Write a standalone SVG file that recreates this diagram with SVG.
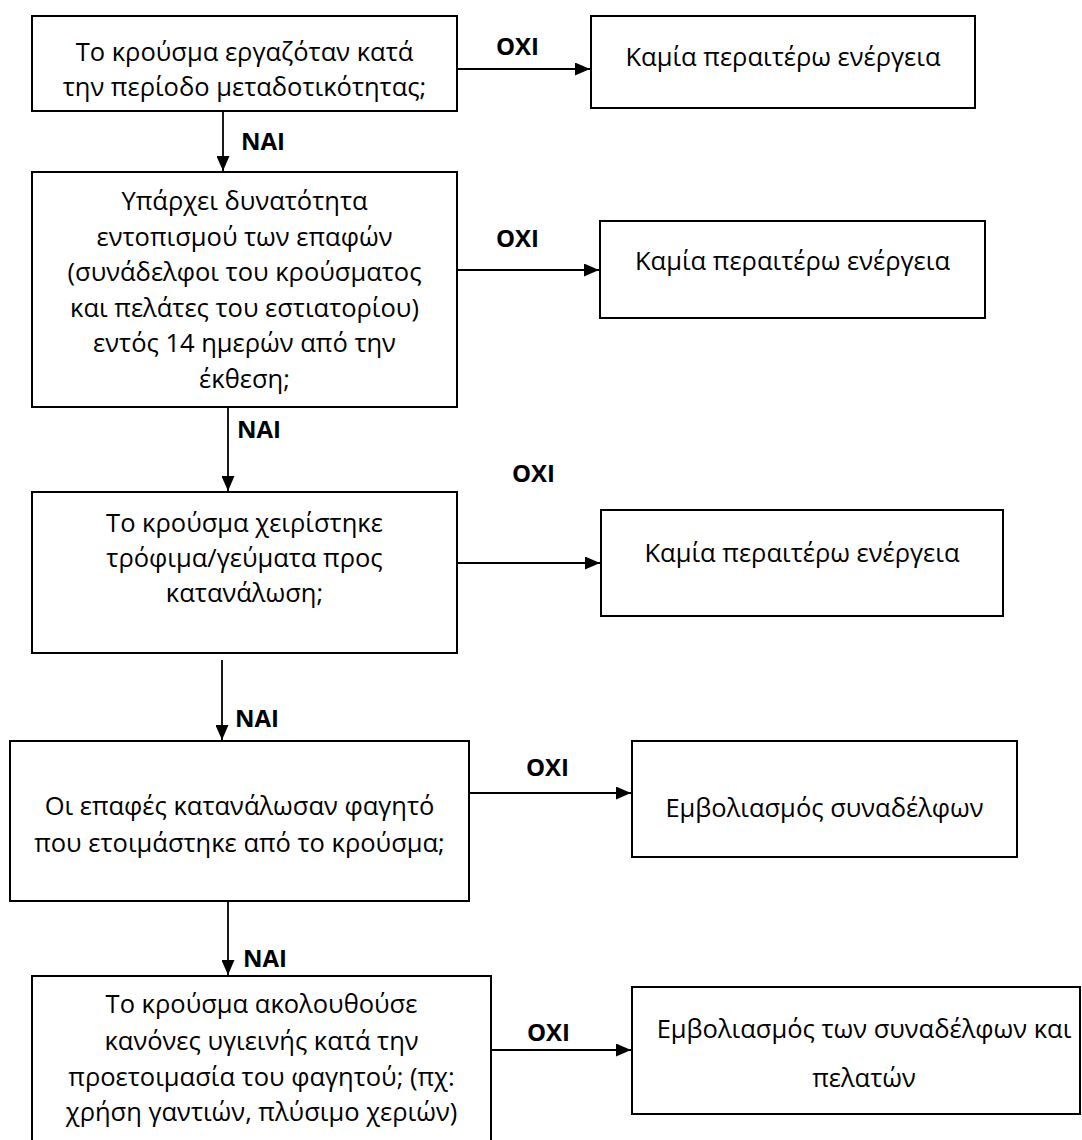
<svg xmlns="http://www.w3.org/2000/svg" width="1082" height="1140" viewBox="0 0 1082 1140">
<style>
.box{fill:#fff;stroke:#000;stroke-width:2}
.t{font-family:"Open Sans","Noto Sans","DejaVu Sans",sans-serif;font-size:25.5px;fill:#000;text-anchor:middle}
.lbl{font-family:"Open Sans","Liberation Sans",sans-serif;font-size:24px;font-weight:bold;fill:#000}
.c{stroke:#000;stroke-width:1.8;fill:none;marker-end:url(#ah)}
</style>
<defs>
<marker id="ah" viewBox="0 0 10 10" refX="10" refY="5" markerWidth="15" markerHeight="13" markerUnits="userSpaceOnUse" orient="auto" preserveAspectRatio="none">
<path d="M0,0 L10,5 L0,10 z" fill="#000"/>
</marker>
</defs>
<rect width="1082" height="1140" fill="#fff"/>
<g id="connectors">
<line class="c" x1="223" y1="111" x2="223" y2="171"/>
<line class="c" x1="228" y1="407" x2="228" y2="491"/>
<line class="c" x1="222" y1="660" x2="222" y2="740"/>
<line class="c" x1="228" y1="901" x2="228" y2="975"/>
<line class="c" x1="457" y1="69" x2="590" y2="69"/>
<line class="c" x1="457" y1="270" x2="599" y2="270"/>
<line class="c" x1="457" y1="563" x2="600" y2="563"/>
<line class="c" x1="469" y1="793" x2="631" y2="793"/>
<line class="c" x1="491" y1="1050" x2="631" y2="1050"/>
<text class="lbl" x="241" y="150">NAI</text>
<text class="lbl" x="237" y="438">NAI</text>
<text class="lbl" x="235" y="727">NAI</text>
<text class="lbl" x="243" y="967">NAI</text>
<text class="lbl" x="496" y="55">OXI</text>
<text class="lbl" x="496" y="247">OXI</text>
<text class="lbl" x="512" y="482">OXI</text>
<text class="lbl" x="526" y="776">OXI</text>
<text class="lbl" x="527" y="1041">OXI</text>
</g>
<g id="q1">
<rect class="box" x="32" y="16" width="425" height="95"/>
<text class="t" x="244.5" y="61">Το κρούσμα εργαζόταν κατά</text>
<text class="t" x="244.5" y="96">την περίοδο μεταδοτικότητας;</text>
</g>
<g id="n1">
<rect class="box" x="591" y="16" width="384" height="92"/>
<text class="t" x="783" y="66">Καμία περαιτέρω ενέργεια</text>
</g>
<g id="q2">
<rect class="box" x="32" y="172" width="425" height="235"/>
<text class="t" x="244.5" y="210">Υπάρχει δυνατότητα</text>
<text class="t" x="244.5" y="245.5">εντοπισμού των επαφών</text>
<text class="t" x="244.5" y="281">(συνάδελφοι του κρούσματος</text>
<text class="t" x="244.5" y="316.5">και πελάτες του εστιατορίου)</text>
<text class="t" x="244.5" y="352">εντός 14 ημερών από την</text>
<text class="t" x="244.5" y="387.5">έκθεση;</text>
</g>
<g id="n2">
<rect class="box" x="600" y="221" width="385" height="97"/>
<text class="t" x="792.5" y="270">Καμία περαιτέρω ενέργεια</text>
</g>
<g id="q3">
<rect class="box" x="32" y="492" width="425" height="161"/>
<text class="t" x="244.5" y="532">Το κρούσμα χειρίστηκε</text>
<text class="t" x="244.5" y="567">τρόφιμα/γεύματα προς</text>
<text class="t" x="244.5" y="602">κατανάλωση;</text>
</g>
<g id="n3">
<rect class="box" x="601" y="510" width="402" height="106"/>
<text class="t" x="802" y="562">Καμία περαιτέρω ενέργεια</text>
</g>
<g id="q4">
<rect class="box" x="10" y="741" width="459" height="160"/>
<text class="t" x="239.5" y="815">Οι επαφές κατανάλωσαν φαγητό</text>
<text class="t" x="239.5" y="852">που ετοιμάστηκε από το κρούσμα;</text>
</g>
<g id="n4">
<rect class="box" x="632" y="741" width="385" height="116"/>
<text class="t" x="824.5" y="817">Εμβολιασμός συναδέλφων</text>
</g>
<g id="q5">
<rect class="box" x="32" y="976" width="459" height="170"/>
<text class="t" x="261.5" y="1013">Το κρούσμα ακολουθούσε</text>
<text class="t" x="261.5" y="1050">κανόνες υγιεινής κατά την</text>
<text class="t" x="261.5" y="1086">προετοιμασία του φαγητού; (πχ:</text>
<text class="t" x="261.5" y="1121">χρήση γαντιών, πλύσιμο χεριών)</text>
</g>
<g id="n5">
<rect class="box" x="632" y="987" width="448" height="127"/>
<text class="t" x="864" y="1038">Εμβολιασμός των συναδέλφων και</text>
<text class="t" x="864" y="1087">πελατών</text>
</g>
</svg>
